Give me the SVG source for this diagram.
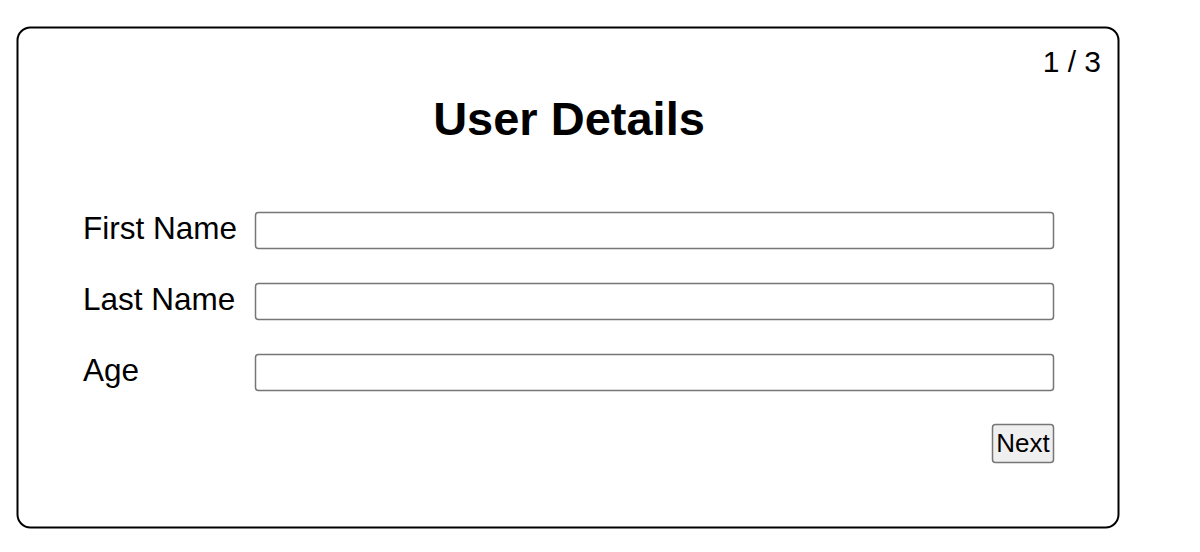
<svg xmlns="http://www.w3.org/2000/svg" width="1200" height="552" viewBox="0 0 1200 552">
<style>
text{font-family:"Liberation Sans",Arial,Helvetica,sans-serif;fill:#000}
.lbl{font-size:31.5px}
.inp{fill:#fff;stroke:#767676;stroke-width:1.5}
</style>
<rect width="1200" height="552" fill="#fff"/>
<g id="card">
<rect x="17.5" y="27.5" width="1101" height="500" rx="13" fill="#fff" stroke="#000" stroke-width="2"/>
<text x="1101" y="72" font-size="30" text-anchor="end">1 / 3</text>
<text x="569" y="135" font-size="47" font-weight="bold" text-anchor="middle">User Details</text>
</g>
<g id="first-name">
<text class="lbl" x="83" y="239">First Name</text>
<rect class="inp" x="255.5" y="212.5" width="798" height="36" rx="3"/>
</g>
<g id="last-name">
<text class="lbl" x="83" y="310">Last Name</text>
<rect class="inp" x="255.5" y="283.5" width="798" height="36" rx="3"/>
</g>
<g id="age">
<text class="lbl" x="83" y="381">Age</text>
<rect class="inp" x="255.5" y="354.5" width="798" height="36" rx="3"/>
</g>
<g id="next">
<rect x="992.5" y="424.5" width="61" height="38" rx="3" fill="#efefef" stroke="#767676" stroke-width="1.5"/>
<text x="1023" y="452" font-size="26" text-anchor="middle">Next</text>
</g>
<g id="connectors"/>
</svg>
